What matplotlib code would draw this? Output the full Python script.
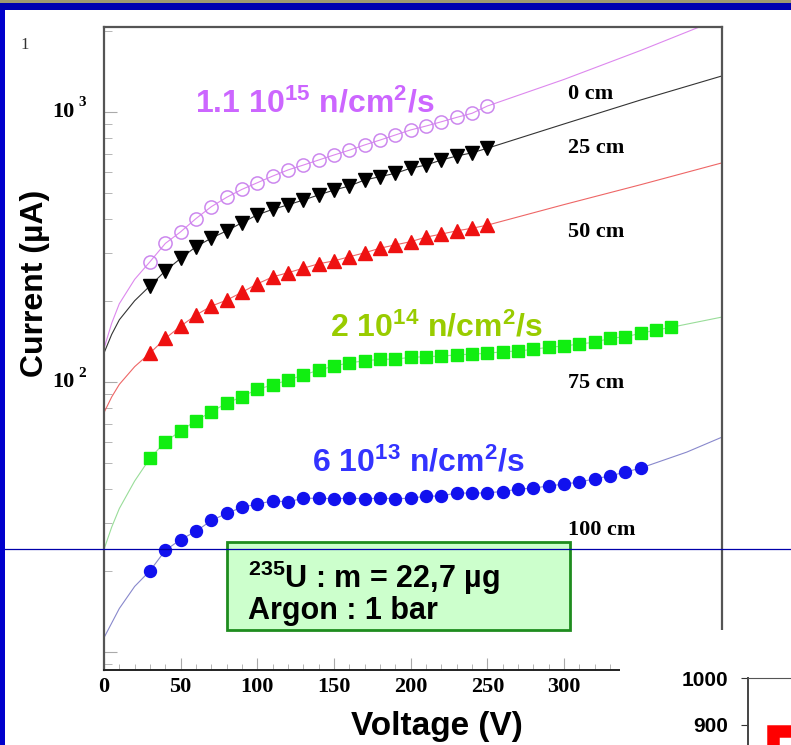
import matplotlib
matplotlib.use("Agg")
import matplotlib.pyplot as plt
from matplotlib.patches import Rectangle
from matplotlib.lines import Line2D
from matplotlib import transforms
from matplotlib.ticker import LogLocator, MultipleLocator, NullFormatter

plt.rcParams['mathtext.fontset'] = 'custom'
plt.rcParams['mathtext.rm'] = 'Liberation Sans:bold'
plt.rcParams['mathtext.it'] = 'Liberation Sans:bold'
plt.rcParams['mathtext.bf'] = 'Liberation Sans:bold'

### DATA ###
volts = list(range(30, 251, 10))
i_0cm = [279, 326, 360, 403, 446, 483, 517, 547, 579, 610, 636, 664, 693, 722,
         755, 787, 822, 858, 887, 920, 955, 989, 1052]
i_25cm = [227, 258, 287, 317, 341, 363, 389, 416, 436, 453, 472, 493, 514, 532,
          560, 576, 593, 619, 636, 664, 687, 706, 734]
i_50cm = [128, 145, 161, 177, 191, 201, 215, 231, 245, 254, 264, 274, 281, 291,
          301, 313, 322, 331, 344, 353, 363, 371, 381]
volts_75 = list(range(30, 371, 10))
i_75cm = [52.2, 60.1, 65.9, 71.9, 77.6, 83.4, 88.3, 94.0, 97.5, 101.7, 106.1, 110.7,
          114.6, 117.8, 119.8, 121.3, 121.6, 123.4, 124.1, 124.8, 125.9, 127.0,
          127.7, 129.5, 130.2, 132.2, 134.5, 135.9, 138.3, 140.4, 145.1, 147.2,
          151.4, 155.8, 159.5]
volts_100 = list(range(30, 351, 10))
i_100cm = [20.0, 23.8, 26.1, 28.0, 30.7, 32.6, 34.4, 35.3, 36.3, 36.0, 37.1, 37.1,
           37.0, 37.1, 37.0, 37.1, 37.0, 37.1, 37.8, 37.8, 38.9, 38.7, 38.9, 39.3,
           40.1, 40.5, 41.2, 41.9, 42.6, 43.8, 44.9, 46.4, 48.0]

# fitted curves: values read at the ends, the middle follows the measurements
fit_start_v = [0, 5, 10, 20]
fit_0cm_start = [133, 165, 195, 240]
fit_25cm_start = [128, 150, 170, 200]
fit_50cm_start = [77, 88, 98, 114]
fit_75cm_start = [24, 29, 34, 43]
fit_100cm_start = [11.3, 12.8, 14.5, 17.5]
fit_0cm_end_v = [300, 350, 403]
fit_0cm_end = [1320, 1690, 2230]
fit_25cm_end = [903, 1108, 1360]
fit_50cm_end = [454, 538, 648]
fit_75cm_end_v = [403]
fit_75cm_end = [174]
fit_100cm_end_v = [380, 403]
fit_100cm_end = [55, 62.5]

distances = ['0 cm', '25 cm', '50 cm', '75 cm', '100 cm']
distance_y = [1166, 735, 359, 99, 28.2]

x_ticks = [0, 50, 100, 150, 200, 250, 300]

second_ticks = [900, 1000]
second_x = [1.07]
second_y = [842.6]

W, H = 791, 745
def fx(px):
    return px / W
def fy(py):
    return 1 - py / H

fig = plt.figure(figsize=(W / 100, H / 100), dpi=100)
ax = fig.add_axes([fx(104), fy(670), (722 - 104) / W, (670 - 27) / H])
ax.set_yscale('log')
ax.set_xlim(0, 403)
ax.set_ylim(8.58, 2064)

lw = 0.8
ax.plot(fit_start_v + volts + fit_0cm_end_v, fit_0cm_start + i_0cm + fit_0cm_end,
        color='#dd88ee', lw=lw)
ax.plot(fit_start_v + volts + fit_0cm_end_v, fit_25cm_start + i_25cm + fit_25cm_end,
        color='#333333', lw=lw)
ax.plot(fit_start_v + volts + fit_0cm_end_v, fit_50cm_start + i_50cm + fit_50cm_end,
        color='#ee6666', lw=lw)
ax.plot(fit_start_v + volts_75 + fit_75cm_end_v, fit_75cm_start + i_75cm + fit_75cm_end,
        color='#99dd99', lw=lw)
ax.plot(fit_start_v + volts_100 + fit_100cm_end_v, fit_100cm_start + i_100cm + fit_100cm_end,
        color='#8888cc', lw=lw)

ax.plot(volts, i_0cm, 'o', ms=9.5, mfc='none', mec='#cc88ee', mew=1.1)
ax.plot(volts, i_25cm, 'v', ms=9.5, color='black')
ax.plot(volts, i_50cm, '^', ms=9.5, color='#ee1111')
ax.plot(volts_75, i_75cm, 's', ms=8, color='#11ee11')
ax.plot(volts_100, i_100cm, 'o', ms=8.6, color='#1111ee')

# distance labels
for lab, yv in zip(distances, distance_y):
    ax.text(302.6, yv, lab, ha='left', va='center', family='Liberation Serif',
            weight='bold', fontsize=16)

# flux labels
ax.text(59.3, 1075, r'1.1 10$^{15}$ n/cm$^{2}$/s', color='#cc66ff', fontsize=23,
        family='Liberation Sans', weight='bold', va='center', ha='left')
ax.text(147.4, 159, r'2 10$^{14}$ n/cm$^{2}$/s', color='#99cc00', fontsize=23,
        family='Liberation Sans', weight='bold', va='center', ha='left')
ax.text(135.7, 50.4, r'6 10$^{13}$ n/cm$^{2}$/s', color='#3333ff', fontsize=23,
        family='Liberation Sans', weight='bold', va='center', ha='left')

# axes style
for side in ['left', 'top', 'right']:
    ax.spines[side].set_color('#555555')
    ax.spines[side].set_linewidth(1.6)
ax.spines['bottom'].set_color('#222222')
ax.spines['bottom'].set_linewidth(1.4)

ax.set_xticks(x_ticks)
ax.xaxis.set_minor_locator(MultipleLocator(10))
ax.set_xticklabels([str(v) for v in x_ticks], family='Liberation Serif',
                   weight='bold', fontsize=16)
ax.yaxis.set_major_locator(LogLocator(base=10))
ax.yaxis.set_minor_locator(LogLocator(base=10, subs=range(2, 10)))
ax.yaxis.set_major_formatter(NullFormatter())
ax.yaxis.set_minor_formatter(NullFormatter())
ax.tick_params(axis='x', which='major', direction='in', length=9, color='#aaaaaa', pad=5)
ax.tick_params(axis='x', which='minor', direction='in', length=4, color='#aaaaaa')
ax.tick_params(axis='y', which='major', direction='in', length=9, color='#aaaaaa')
ax.tick_params(axis='y', which='minor', direction='in', length=6, color='#aaaaaa')

ytr = ax.get_yaxis_transform()
suptr = transforms.offset_copy(ytr, fig=fig, y=9, units='dots')
for val, sup in [(100, '2'), (1000, '3')]:
    ax.text(-0.0485, val, '10', transform=ytr, ha='right', va='center',
            family='Liberation Serif', weight='bold', fontsize=16)
    ax.text(-0.041, val, sup, transform=suptr, ha='left', va='center',
            family='Liberation Serif', weight='bold', fontsize=11)

fig.text(fx(35), fy(283), 'Current (µA)', rotation=90, ha='center', va='center',
         family='Liberation Sans', weight='bold', fontsize=23)
fig.text(fx(437), fy(727), 'Voltage (V)', ha='center', va='center',
         family='Liberation Sans', weight='bold', fontsize=24)
fig.text(fx(25), fy(45), '1', ha='center', va='center', family='Liberation Serif',
         fontsize=12, color='#333333')

# info box
fig.add_artist(Rectangle((fx(227), fy(630)), (570 - 227) / W, (630 - 542) / H,
                         transform=fig.transFigure, facecolor='#ccffcc',
                         edgecolor='#1e8c1e', lw=2, zorder=4))
fig.text(fx(248), fy(578), r'$^{235}$U : m = 22,7 µg', ha='left', va='center',
         family='Liberation Sans', weight='bold', fontsize=22, zorder=5)
fig.text(fx(248), fy(611), 'Argon : 1 bar', ha='left', va='center',
         family='Liberation Sans', weight='bold', fontsize=22, zorder=5)

# slide decorations
fig.add_artist(Rectangle((fx(620), 0), 1 - fx(620), fy(630), transform=fig.transFigure,
                         facecolor='white', edgecolor='none', zorder=5))
fig.add_artist(Line2D([fx(5), 1], [fy(549), fy(549)], transform=fig.transFigure,
                      color='#0000aa', lw=0.9, zorder=7))
fig.add_artist(Rectangle((0, 0), fx(5), 1, transform=fig.transFigure,
                         facecolor='#0000cc', edgecolor='none', zorder=8))
fig.add_artist(Rectangle((0, fy(10)), 1, 7 / H, transform=fig.transFigure,
                         facecolor='#0000b0', edgecolor='none', zorder=8))
fig.add_artist(Rectangle((0, fy(3)), 1, 3 / H, transform=fig.transFigure,
                         facecolor='#a09a70', edgecolor='none', zorder=8))

# second chart peeking in at the bottom right
ax2 = fig.add_axes([fx(748), 0, 1 - fx(748), fy(678)], zorder=6)
ax2.set_xlim(0, 1)
ax2.set_ylim(857.4, 1000)
ax2.plot(second_x, second_y, 's', ms=30, mfc='white', mec='red', mew=9, clip_on=False)
ax2.set_xticks([])
ax2.set_yticks(second_ticks)
ax2.set_yticklabels([str(v) for v in second_ticks], family='Liberation Sans',
                    weight='bold', fontsize=15)
ax2.tick_params(axis='y', direction='out', length=5, pad=9, color='#333333')
ax2.spines['right'].set_visible(False)
ax2.spines['bottom'].set_visible(False)
ax2.spines['left'].set_color('#444444')
ax2.spines['left'].set_linewidth(1.4)
ax2.spines['top'].set_color('#555555')

fig.savefig('out.png', dpi=100)
